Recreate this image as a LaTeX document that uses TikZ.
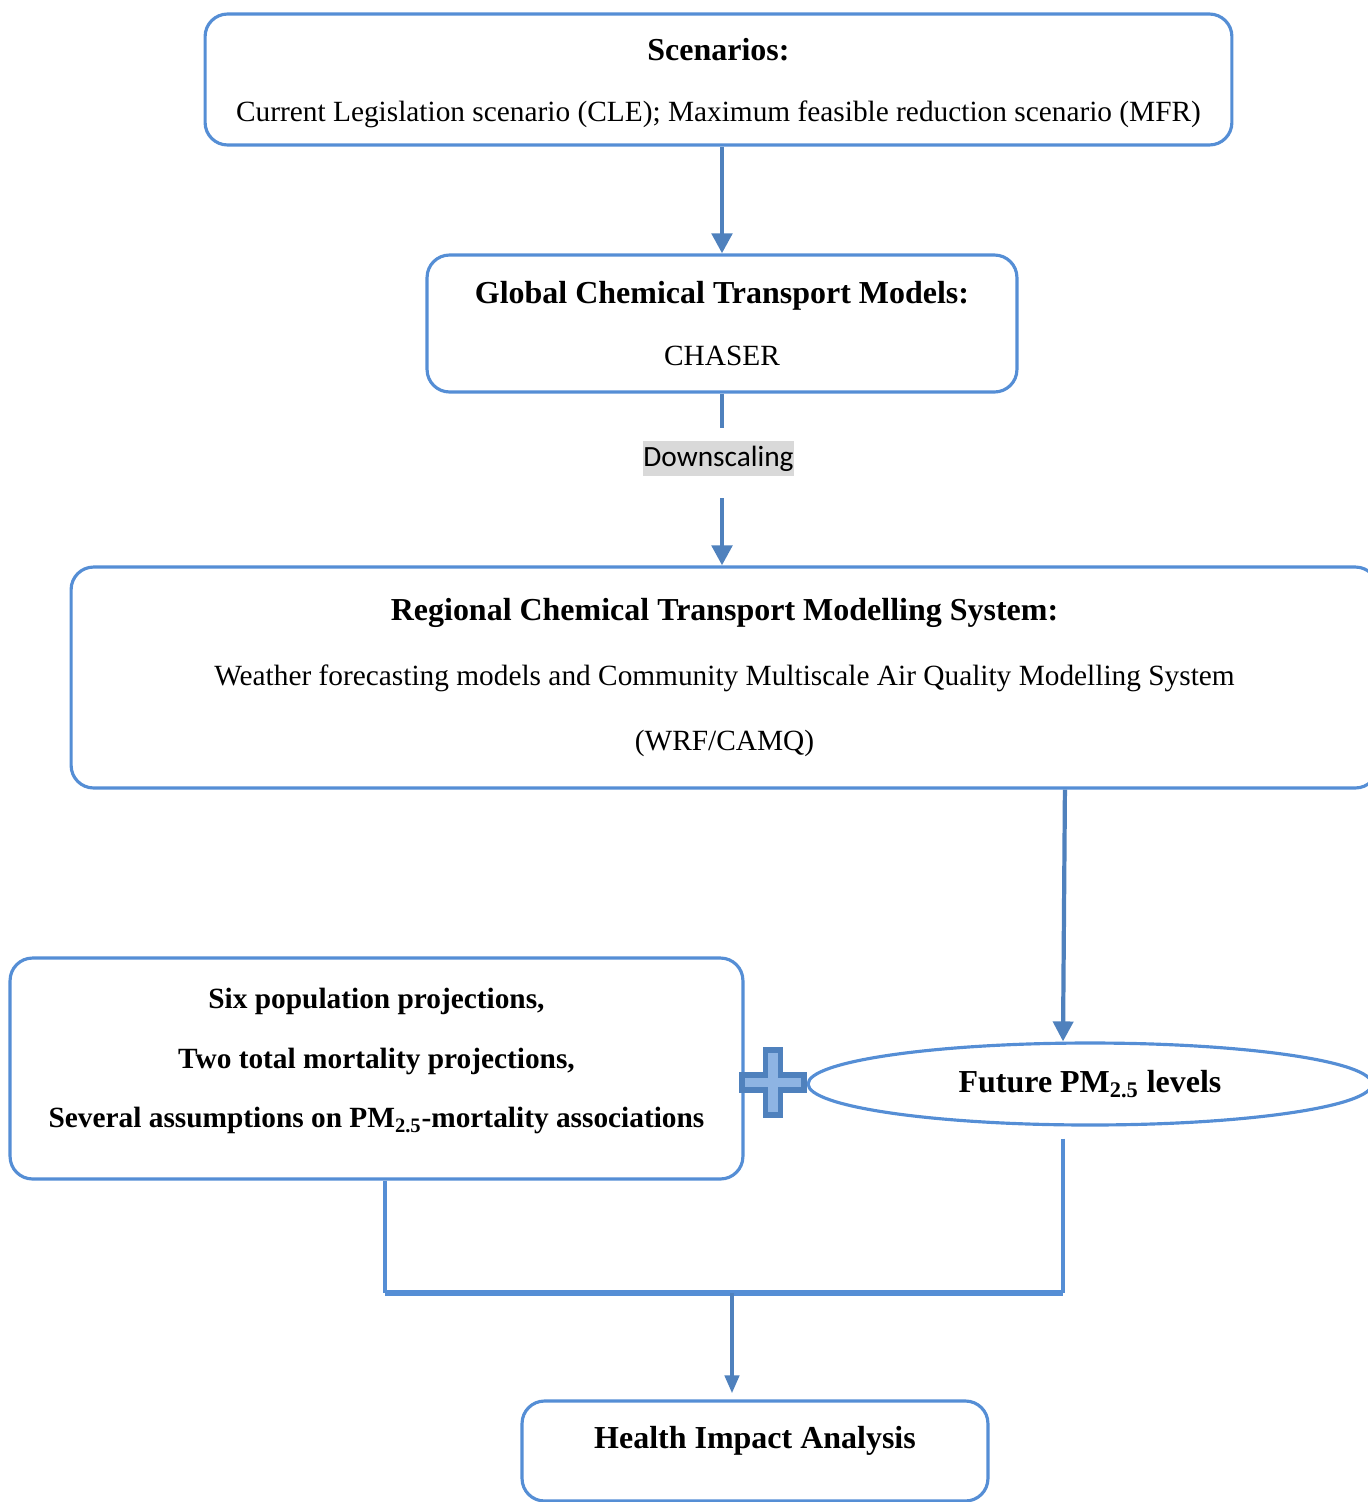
\documentclass[tikz,border=0pt]{standalone}
\usepackage{fontspec}
\setmainfont{Liberation Serif}
\newfontfamily\calibrifont{Carlito}
\usetikzlibrary{shapes.geometric}
\usetikzlibrary{arrows.meta}
\usetikzlibrary{positioning}

\definecolor{boxblue}{RGB}{85,142,213}
\definecolor{arrowblue}{RGB}{79,129,189}
\definecolor{plusfill}{RGB}{142,180,227}
\definecolor{labelgray}{RGB}{217,217,217}

\newcommand{\headfont}{\fontsize{18.2}{35}\selectfont\bfseries}
\newcommand{\bodyfont}{\fontsize{16.7}{35}\selectfont}

\tikzset{
  stagebox/.style={draw=boxblue, line width=1.8pt, rounded corners=0.45cm, align=center, font=\bodyfont, inner sep=0pt},
  flow/.style={draw=arrowblue, line width=2.8pt, -{Triangle[length=0.4cm,width=0.4cm]}},
  flowline/.style={draw=arrowblue, line width=2.8pt},
  link/.style={draw=boxblue, line width=2.2pt},
}

\begin{document}
\begin{tikzpicture}[x=0.02cm, y=-0.02cm]
  \useasboundingbox (0,0) rectangle (1367,1502);

  % boxes
  \node[stagebox, minimum width=20.54cm, minimum height=2.62cm] (scen) at (718.5,79.5)
    {{\headfont\rule{0pt}{16.5pt}Scenarios:}\\[-0.5pt]
     Current Legislation scenario (CLE); Maximum feasible reduction scenario (MFR)};
  \node[stagebox, minimum width=11.8cm, minimum height=2.74cm] (gctm) at (722,323.5)
    {{\headfont Global Chemical Transport Models:}\\ CHASER};
  \node[fill=labelgray, minimum width=3.02cm, minimum height=0.7cm, inner sep=0pt,
    font=\calibrifont\fontsize{16.7}{20}\selectfont] (down) at (718.5,458.5) {Downscaling};
  \node[stagebox, minimum width=26.14cm, minimum height=4.42cm] (rcmt) at (724.5,677.5)
    {{\headfont Regional Chemical Transport Modelling System:}\\[2pt]
     Weather forecasting models and Community Multiscale Air Quality Modelling System\\[2pt]
     (WRF/CAMQ)};
  \node[stagebox, minimum width=14.66cm, minimum height=4.42cm,
    font=\fontsize{16.7}{34}\selectfont\bfseries] (pop) at (376.5,1068.5)
    {Six population projections,\\ Two total mortality projections,\\
     Several assumptions on PM\textsubscript{2.5}-mortality associations\rule[-12pt]{0pt}{0pt}};
  \node[ellipse, draw=boxblue, line width=1.8pt, minimum width=11.28cm, minimum height=1.64cm,
    inner sep=0pt, font=\headfont] (pm) at (1090,1084) {Future PM\textsubscript{2.5} levels};
  \node[stagebox, minimum width=9.32cm, minimum height=2cm, font=\headfont,
    text height=0.5cm, text depth=0.6cm] (hia) at (755,1451) {Health Impact Analysis};

  % plus sign
  \coordinate (plus) at (773,1082.5);
  \filldraw[fill=plusfill, draw=arrowblue, line width=3.4pt, shift={(plus)}]
    (-31,-7.5) -- (-7.5,-7.5) -- (-7.5,-32.5) -- (7.5,-32.5) -- (7.5,-7.5) -- (31,-7.5)
    -- (31,7.5) -- (7.5,7.5) -- (7.5,32.5) -- (-7.5,32.5) -- (-7.5,7.5) -- (-31,7.5) -- cycle;

  % connectors
  \draw[flow] (scen.south -| gctm.north) -- (gctm.north);
  \draw[flowline, shorten >=0.26cm] (gctm.south) -- (gctm.south |- down.north);
  \draw[flow, shorten <=0.44cm] (down.south -| gctm.south) -- (rcmt.north -| gctm.south);
  \draw[flow, line width=2.4pt] ([xshift=6.81cm]rcmt.south) -- ([xshift=-0.54cm]pm.north);

  \coordinate (jl) at (385,1293);
  \coordinate (jr) at (1063,1293);
  \coordinate (jm) at (732,1293);
  \draw[link] (pop.south -| jl) -- (jl);
  \draw[link, shorten <=0.24cm] (pm.south -| jr) -- (jr);
  \draw[link, line width=3.4pt] (jl) -- (jr);
  \draw[flowline, line width=2.4pt, -{Triangle[length=0.36cm,width=0.28cm]}, shorten >=0.12cm]
    (jm) -- (hia.north -| jm);
\end{tikzpicture}
\end{document}
